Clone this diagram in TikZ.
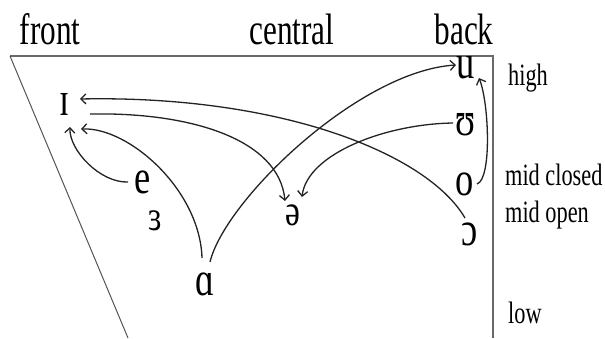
\documentclass[tikz,border=0pt]{standalone}
\usepackage{fontspec}
\setmainfont{Liberation Serif}
\usepackage{tikz}
\usetikzlibrary{arrows.meta}
\definecolor{chart-gray}{RGB}{105, 105, 105}
\definecolor{glide-gray}{RGB}{35, 35, 35}

\begin{document}
\begin{tikzpicture}[x=1pt, y=-1pt,
        hdr/.style={font=\fontsize{44}{44}\selectfont, xscale=0.71,
                    transform shape, inner sep=0pt, anchor=base},
        side/.style={font=\fontsize{31}{31}\selectfont, xscale=0.72,
                     transform shape, inner sep=0pt, anchor=base west},
        vow/.style={font=\fontsize{48}{48}\selectfont, xscale=0.76,
                    transform shape, inner sep=0pt, anchor=base},
        glide/.style={-{Straight Barb[length=5pt, width=10pt]},
                      line width=1.3pt, color=glide-gray}
      ]
        \useasboundingbox (0,0) rectangle (605,338);
        % vowel chart frame
        \draw[chart-gray, line width=2pt] (10,56) -- (493,56) -- (493,338);
        \draw[chart-gray!80!black, line width=1pt] (10,56) -- (128,338);
        % column and row labels
        \node[hdr] (front) at (50,44) {front};
        \node[hdr] (central) at (292,44) {central};
        \node[hdr] (back) at (464,44) {back};
        \node[side] (high) at (508,85) {high};
        \node[side] (midc) at (505,185) {mid closed};
        \node[side] (mido) at (505,222) {mid open};
        \node[side] (low) at (508,323) {low};
        % vowels
        \node[vow] (ih) at (65,115) {ɪ};
        \node[vow] (eh) at (143,193) {e};
        \node[vow, font=\fontsize{42}{42}\selectfont] (er) at (155,230) {ɜ};
        \node[vow] (ah) at (205,295) {ɑ};
        \node[vow, font=\fontsize{44}{44}\selectfont] (schwa) at (293,225) {ə};
        \node[vow] (uu) at (466,78) {u};
        \node[vow] (uh) at (466,135) {ʊ};
        \node[vow] (oo) at (465,195) {o};
        \node[vow] (aw) at (470,245) {ɔ};
        % diphthong glides
        \draw[glide] ([shift={(-5,-27)}]aw.base)
          .. controls +(-38,-65) and +(199,-4) .. ([shift={(15,-16)}]ih.base);
        \draw[glide] ([shift={(25,-1)}]ih.base)
          .. controls +(100,-2) and +(-6,-62) .. ([shift={(-8,-24)}]schwa.base);
        \draw[glide] ([shift={(-15,-11)}]eh.base)
          .. controls +(-28,1) and +(-1,23) .. ([shift={(5,12)}]ih.base);
        \draw[glide] ([shift={(-3,-37)}]ah.base)
          .. controls +(-2,-68) and +(48,-2) .. ([shift={(16,14)}]ih.base);
        \draw[glide] ([shift={(5,-33)}]ah.base)
          .. controls +(15,-62) and +(-97,6) .. ([shift={(-10,-13)}]uu.base);
        \draw[glide] ([shift={(-13,-12)}]uh.base)
          .. controls +(-68,1) and +(5,-43) .. ([shift={(9,-28)}]schwa.base);
        \draw[glide] ([shift={(12,-11)}]oo.base)
          .. controls +(15,-5) and +(10,25) .. ([shift={(13,0)}]uu.base);
      \end{tikzpicture}
\end{document}
